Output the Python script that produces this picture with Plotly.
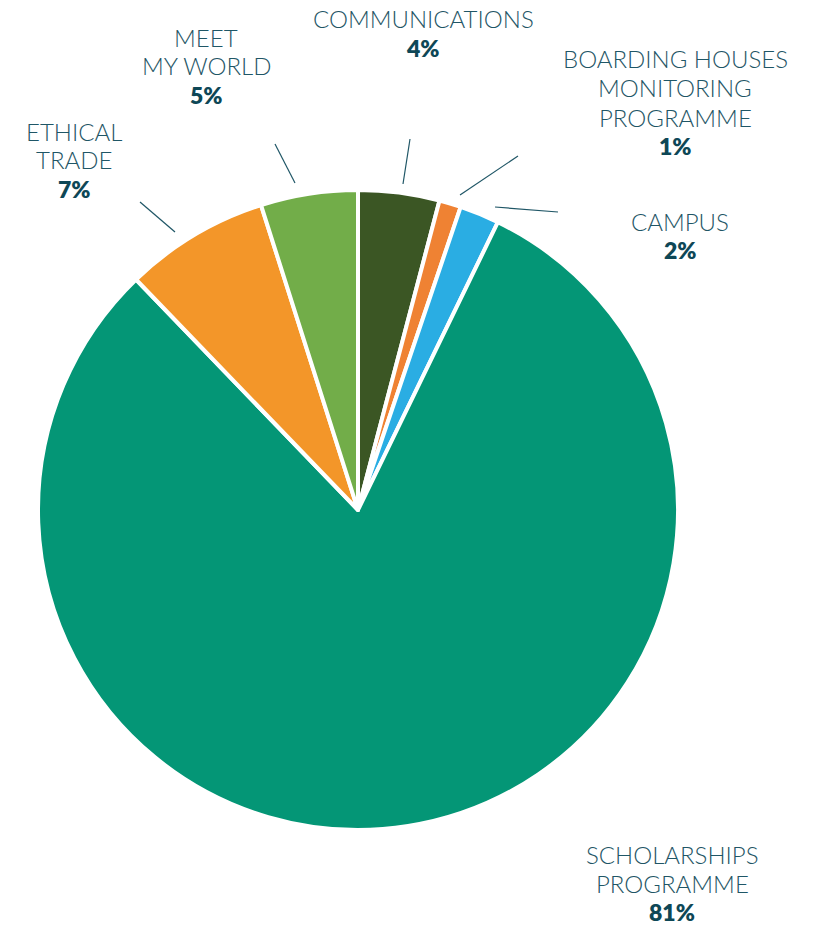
import plotly.graph_objects as go

OFF = 8  # page body margin
W, H = 816 - OFF, 925 - OFF

categories = ["COMMUNICATIONS", "BOARDING HOUSES MONITORING PROGRAMME", "CAMPUS",
              "SCHOLARSHIPS PROGRAMME", "ETHICAL TRADE", "MEET MY WORLD"]
label_lines = [["COMMUNICATIONS"], ["BOARDING HOUSES", "MONITORING", "PROGRAMME"], ["CAMPUS"],
               ["SCHOLARSHIPS", "PROGRAMME"], ["ETHICAL", "TRADE"], ["MEET", "MY WORLD"]]
values = [4.1, 1.1, 2.0, 80.6, 7.3, 4.9]
colors = ["#3b5624", "#ef8233", "#2aade3", "#049676", "#f39629", "#72ad49"]

# label layout (screen pixel positions: center x, y of first line)
label_pos = [(423, 19), (675, 59), (680, 221), (672, 854), (74, 131), (206, 37)]
leader = [((410, 139), (403, 184)), ((518, 156), (460, 195)), ((495, 207), (558, 212)),
          None, ((140, 202), (175, 232)), ((275, 144), (295, 183))]

cx, cy, r = 358, 510, 320
LINE = 29
TXT = "#1f5666"
PCT = "#0e4756"


def px(x):
    return (x - OFF) / W


def py(y):
    return 1 - (y - OFF) / H


fig = go.Figure(go.Pie(
    labels=categories, values=values, sort=False, direction="clockwise", rotation=0,
    marker=dict(colors=colors, line=dict(color="white", width=4)),
    textinfo="none", hoverinfo="label+percent", showlegend=False,
    domain=dict(x=[px(cx - r), px(cx + r)], y=[py(cy + r), py(cy - r)]),
))

total = sum(values)
annotations = []
for lines, v, (x, y) in zip(label_lines, values, label_pos):
    for i, ln in enumerate(lines):
        annotations.append(dict(x=px(x), y=py(y + i * LINE), xref="paper", yref="paper",
                                text=ln, showarrow=False, xanchor="center", yanchor="middle",
                                font=dict(family="Lato", size=24, weight=300, color=TXT)))
    annotations.append(dict(x=px(x), y=py(y + len(lines) * LINE), xref="paper", yref="paper",
                            text=f"{round(v / total * 100)}%", showarrow=False,
                            xanchor="center", yanchor="middle",
                            font=dict(family="Lato", size=23, weight=800, color=PCT)))

shapes = []
for seg in leader:
    if seg is None:
        continue
    (x0, y0), (x1, y1) = seg
    shapes.append(dict(type="line", xref="paper", yref="paper", x0=px(x0), y0=py(y0),
                       x1=px(x1), y1=py(y1), line=dict(color="#1f5666", width=1.2)))

fig.update_layout(width=W, height=H, margin=dict(l=0, r=0, t=0, b=0),
                  paper_bgcolor="white", plot_bgcolor="white",
                  annotations=annotations, shapes=shapes)
fig.write_html("out.html")
